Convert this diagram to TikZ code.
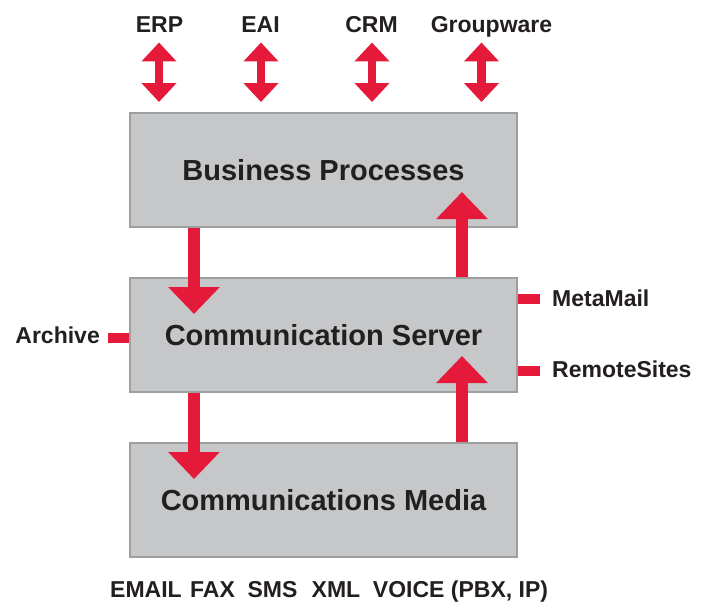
\documentclass[tikz,border=0pt]{standalone}
\usepackage{fontspec}
\setmainfont{Liberation Sans}
\usetikzlibrary{arrows.meta}
\definecolor{arrred}{HTML}{E5193A}
\definecolor{boxgray}{HTML}{C6C7C9}
\definecolor{boxline}{HTML}{9E9FA1}
\definecolor{ink}{HTML}{231F20}
\begin{document}
\begin{tikzpicture}[x=1pt,y=-1pt,
  procbox/.style={draw=boxline, line width=1.3pt, fill=boxgray, rectangle,
    minimum width=387pt, minimum height=114pt, inner sep=0pt,
    text height=20.5pt, text depth=0pt, text=ink,
    font=\fontsize{29}{33}\selectfont\bfseries},
  lbl/.style={text=ink, inner sep=0pt, font=\fontsize{23}{27}\selectfont\bfseries},
  flow/.style={draw=arrred, line width=12pt, -{Triangle[width=50pt,length=27pt]}},
  dbl/.style={draw=arrred, line width=8.5pt,
    {Triangle[width=34pt,length=19pt]}-{Triangle[width=34pt,length=19pt]}},
  stub/.style={draw=arrred, line width=10.5pt}]
\useasboundingbox (0,0) rectangle (704,602);

% boxes
\node[procbox] (bp) at (323.5,170) {Business Processes};
\node[procbox] (cs) at (323.5,335) {Communication Server};
\node[procbox] (cm) at (323.5,500) {Communications Media};

% top labels and double arrows
\node[lbl, anchor=base] (erp) at (159.5,33) {ERP};
\node[lbl, anchor=base] (eai) at (260.5,33) {EAI};
\node[lbl, anchor=base] (crm) at (371.5,33) {CRM};
\node[lbl, anchor=base] (gw)  at (491.5,33) {Groupware};
\coordinate (erpA) at (159,42.5);  \coordinate (erpB) at (159,102);
\coordinate (eaiA) at (261,42.5);  \coordinate (eaiB) at (261,102);
\coordinate (crmA) at (372,42.5);  \coordinate (crmB) at (372,102);
\coordinate (gwA)  at (481.5,42.5); \coordinate (gwB)  at (481.5,102);
\draw[dbl] (erpA) -- (erpB);
\draw[dbl] (eaiA) -- (eaiB);
\draw[dbl] (crmA) -- (crmB);
\draw[dbl] (gwA) -- (gwB);

% flows between boxes
\coordinate (d1) at (194,314);
\coordinate (u1) at (462,192);
\coordinate (d2) at (194,479);
\coordinate (u2) at (462,356);
\draw[flow] (bp.south -| d1) -- (d1);
\draw[flow] (cs.north -| u1) -- (u1);
\draw[flow] (cs.south -| d2) -- (d2);
\draw[flow] (cm.north -| u2) -- (u2);

% side stubs
\coordinate (arS) at (108,338);
\coordinate (mmS) at (540,299);
\coordinate (rsS) at (540,371);
\draw[stub] (cs.west |- arS) -- (arS);
\draw[stub] (cs.east |- mmS) -- (mmS);
\draw[stub] (cs.east |- rsS) -- (rsS);
\node[lbl, anchor=base east] (ar) at (100,343.5) {Archive};
\node[lbl, anchor=base west] (mm) at (552,306.5) {MetaMail};
\node[lbl, anchor=base west] (rs) at (552,377) {RemoteSites};

% bottom media labels
\node[lbl, anchor=base] (em)  at (146,597) {EMAIL};
\node[lbl, anchor=base] (fx)  at (212.5,597) {FAX};
\node[lbl, anchor=base] (sms) at (272.5,597) {SMS};
\node[lbl, anchor=base] (xml) at (336,597) {XML};
\node[lbl, anchor=base] (vo)  at (460.5,597) {VOICE (PBX, IP)};
\end{tikzpicture}
\end{document}
